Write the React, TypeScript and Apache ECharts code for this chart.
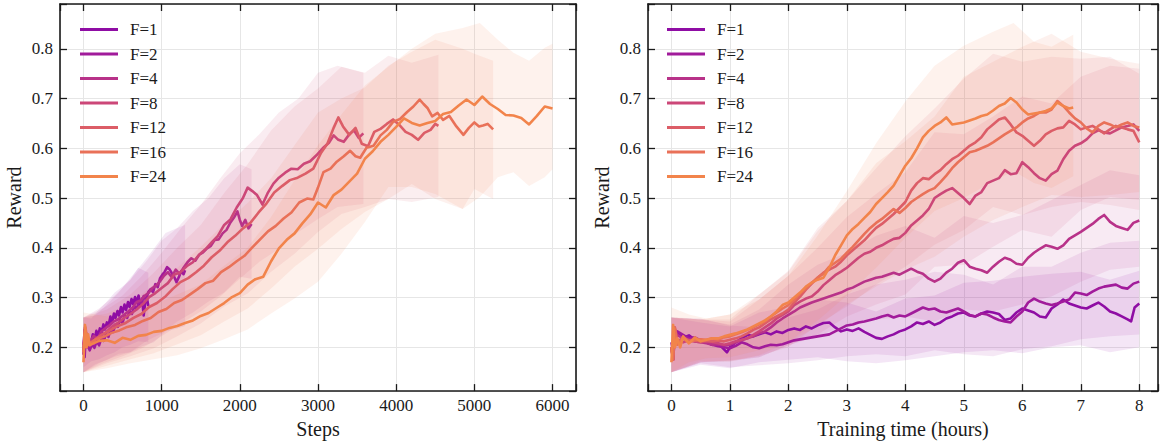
import React, { useEffect, useRef } from 'react';
import * as echarts from 'echarts';

type P = [number, number];
type B = [number, number, number];

const NAMES = ['F=1', 'F=2', 'F=4', 'F=8', 'F=12', 'F=16', 'F=24'];
const COLORS = ['#8f0da4', '#a11b9b', '#b83289', '#cc4778', '#dc5d67', '#e97158', '#f2844b'];

const X_TICKS_LEFT = [0, 1000, 2000, 3000, 4000, 5000, 6000];
const X_TICKS_RIGHT = [0, 1, 2, 3, 4, 5, 6, 7, 8];
const Y_TICKS = [0.2, 0.3, 0.4, 0.5, 0.6, 0.7, 0.8];

// ---------- Left plot: reward vs steps ----------
const leftF1: P[] = [[0,0.185],[15,0.235],[35,0.205],[55,0.222],[75,0.2],[100,0.212],[120,0.226],[140,0.214],[165,0.233],[185,0.221],[210,0.238],[230,0.229],[255,0.246],[275,0.236],[300,0.25],[320,0.243],[345,0.262],[365,0.249],[390,0.268],[410,0.259],[435,0.273],[455,0.264],[480,0.281],[500,0.27],[525,0.286],[545,0.275],[570,0.291],[590,0.281],[615,0.297],[635,0.287],[660,0.301],[680,0.291],[705,0.304],[725,0.284],[750,0.298],[770,0.264],[790,0.29],[810,0.3],[830,0.283]];
const leftF2: P[] = [[0,0.2],[15,0.18],[30,0.225],[50,0.205],[80,0.194],[110,0.206],[140,0.199],[170,0.212],[200,0.204],[230,0.219],[260,0.213],[290,0.227],[320,0.221],[350,0.237],[380,0.231],[410,0.246],[440,0.241],[470,0.256],[500,0.249],[530,0.265],[560,0.259],[590,0.273],[620,0.267],[650,0.283],[680,0.277],[710,0.293],[740,0.287],[770,0.303],[800,0.295],[830,0.311],[860,0.317],[890,0.311],[920,0.327],[950,0.321],[980,0.339],[1010,0.346],[1040,0.352],[1070,0.361],[1100,0.357],[1130,0.349],[1160,0.342],[1190,0.331],[1220,0.341],[1250,0.353],[1280,0.347],[1300,0.355]];
const leftF4: P[] = [[0,0.205],[20,0.24],[45,0.2],[80,0.21],[130,0.223],[180,0.217],[230,0.232],[280,0.238],[330,0.244],[380,0.251],[430,0.255],[480,0.261],[530,0.267],[580,0.273],[630,0.28],[680,0.291],[730,0.294],[780,0.303],[830,0.309],[880,0.319],[930,0.324],[980,0.333],[1030,0.344],[1080,0.351],[1130,0.341],[1180,0.356],[1230,0.347],[1280,0.36],[1330,0.371],[1380,0.379],[1430,0.374],[1480,0.386],[1530,0.391],[1580,0.399],[1630,0.404],[1680,0.416],[1730,0.417],[1780,0.429],[1830,0.436],[1880,0.451],[1930,0.462],[1970,0.473],[2000,0.456],[2030,0.444],[2070,0.456],[2110,0.439],[2150,0.448]];
const leftF8: P[] = [[0,0.2],[25,0.235],[60,0.205],[120,0.212],[200,0.221],[280,0.229],[360,0.241],[440,0.249],[520,0.259],[600,0.267],[680,0.276],[760,0.287],[840,0.301],[920,0.309],[1000,0.319],[1080,0.329],[1160,0.346],[1240,0.351],[1320,0.363],[1400,0.371],[1480,0.386],[1560,0.397],[1640,0.411],[1720,0.424],[1800,0.446],[1880,0.457],[1960,0.481],[2040,0.5],[2100,0.521],[2160,0.514],[2220,0.506],[2290,0.487],[2360,0.511],[2430,0.529],[2500,0.541],[2580,0.551],[2660,0.559],[2740,0.558],[2820,0.569],[2900,0.574],[2980,0.586],[3060,0.6],[3140,0.611],[3200,0.626],[3260,0.617],[3330,0.613],[3400,0.628],[3460,0.636],[3520,0.621],[3580,0.63]];
const leftF12: P[] = [[0,0.195],[25,0.235],[60,0.205],[140,0.215],[240,0.226],[340,0.234],[440,0.243],[540,0.249],[640,0.259],[740,0.267],[840,0.281],[940,0.289],[1040,0.301],[1140,0.317],[1240,0.331],[1340,0.339],[1440,0.351],[1540,0.364],[1640,0.381],[1740,0.394],[1840,0.411],[1940,0.424],[2040,0.439],[2140,0.451],[2240,0.471],[2340,0.489],[2440,0.511],[2540,0.524],[2640,0.536],[2740,0.541],[2840,0.549],[2940,0.559],[3040,0.591],[3120,0.609],[3200,0.641],[3260,0.662],[3320,0.644],[3400,0.627],[3480,0.641],[3560,0.609],[3640,0.604],[3720,0.633],[3800,0.639],[3880,0.649],[3960,0.658],[4040,0.647],[4120,0.633],[4200,0.627],[4280,0.617],[4360,0.631],[4440,0.637],[4500,0.649],[4540,0.645]];
const leftF16: P[] = [[0,0.19],[25,0.24],[60,0.205],[160,0.216],[260,0.221],[360,0.229],[460,0.234],[560,0.241],[660,0.245],[760,0.253],[860,0.259],[960,0.271],[1060,0.277],[1160,0.289],[1260,0.295],[1360,0.306],[1460,0.317],[1560,0.329],[1660,0.334],[1760,0.351],[1860,0.361],[1960,0.373],[2060,0.384],[2160,0.401],[2260,0.417],[2360,0.433],[2460,0.444],[2560,0.459],[2660,0.471],[2760,0.491],[2860,0.499],[2940,0.497],[3000,0.521],[3070,0.552],[3160,0.559],[3240,0.573],[3330,0.584],[3410,0.595],[3480,0.584],[3540,0.581],[3620,0.601],[3710,0.605],[3800,0.626],[3880,0.637],[3960,0.653],[4050,0.659],[4140,0.673],[4220,0.684],[4300,0.698],[4350,0.689],[4400,0.681],[4460,0.664],[4530,0.671],[4600,0.657],[4680,0.665],[4770,0.644],[4860,0.627],[4930,0.641],[5000,0.652],[5060,0.644],[5110,0.646],[5170,0.649],[5240,0.638]];
const leftF24: P[] = [[0,0.17],[20,0.245],[40,0.2],[60,0.226],[80,0.204],[100,0.206],[200,0.213],[300,0.214],[400,0.209],[500,0.219],[600,0.215],[700,0.223],[800,0.225],[900,0.231],[1000,0.233],[1100,0.239],[1200,0.243],[1300,0.249],[1400,0.254],[1500,0.263],[1600,0.269],[1700,0.279],[1800,0.289],[1900,0.301],[2000,0.309],[2100,0.326],[2200,0.337],[2300,0.342],[2400,0.373],[2500,0.399],[2600,0.416],[2700,0.429],[2800,0.449],[2900,0.467],[3000,0.491],[3100,0.481],[3200,0.506],[3300,0.517],[3400,0.533],[3500,0.549],[3600,0.579],[3700,0.594],[3800,0.613],[3900,0.627],[4000,0.643],[4100,0.66],[4200,0.651],[4300,0.646],[4400,0.651],[4500,0.655],[4600,0.669],[4700,0.673],[4800,0.686],[4900,0.698],[5000,0.687],[5100,0.704],[5200,0.689],[5300,0.679],[5400,0.667],[5500,0.666],[5600,0.661],[5700,0.648],[5800,0.665],[5900,0.684],[6000,0.68]];

const leftBandF1: B[] = [[0,0.16,0.26],[100,0.172,0.258],[200,0.176,0.276],[300,0.184,0.292],[400,0.19,0.31],[500,0.2,0.322],[600,0.205,0.336],[700,0.212,0.36],[830,0.21,0.35]];
const leftBandF2: B[] = [[0,0.15,0.26],[150,0.166,0.264],[300,0.175,0.286],[450,0.187,0.31],[600,0.19,0.34],[750,0.202,0.368],[900,0.21,0.398],[1050,0.232,0.43],[1200,0.238,0.44],[1300,0.243,0.446]];
const leftBandF4: B[] = [[0,0.15,0.26],[200,0.168,0.278],[400,0.181,0.304],[600,0.19,0.336],[800,0.212,0.372],[1000,0.228,0.414],[1200,0.252,0.44],[1400,0.27,0.474],[1600,0.292,0.5],[1800,0.31,0.54],[2000,0.342,0.568],[2150,0.338,0.558]];
const leftBandF8: B[] = [[0,0.15,0.26],[250,0.168,0.278],[500,0.182,0.304],[750,0.198,0.344],[1000,0.222,0.39],[1250,0.248,0.44],[1500,0.272,0.486],[1750,0.302,0.54],[2000,0.338,0.59],[2250,0.372,0.628],[2500,0.398,0.672],[2750,0.432,0.7],[3000,0.458,0.752],[3250,0.482,0.766],[3580,0.488,0.752]];
const leftBandF12: B[] = [[0,0.15,0.26],[300,0.168,0.276],[600,0.182,0.306],[900,0.198,0.35],[1200,0.222,0.4],[1500,0.248,0.446],[1800,0.282,0.51],[2100,0.308,0.568],[2400,0.352,0.636],[2700,0.388,0.684],[3000,0.432,0.72],[3300,0.468,0.764],[3600,0.482,0.752],[3900,0.498,0.786],[4200,0.492,0.772],[4540,0.502,0.788]];
const leftBandF16: B[] = [[0,0.15,0.26],[300,0.163,0.268],[600,0.176,0.288],[900,0.188,0.326],[1200,0.206,0.36],[1500,0.224,0.402],[1800,0.252,0.448],[2100,0.278,0.49],[2400,0.318,0.54],[2700,0.362,0.606],[3000,0.398,0.672],[3300,0.438,0.7],[3600,0.472,0.722],[3900,0.498,0.766],[4200,0.528,0.794],[4500,0.498,0.818],[4850,0.478,0.8],[5000,0.518,0.79],[5240,0.498,0.776]];
const leftBandF24: B[] = [[0,0.15,0.27],[300,0.158,0.262],[600,0.168,0.272],[900,0.176,0.286],[1200,0.184,0.306],[1500,0.198,0.326],[1800,0.216,0.364],[2100,0.236,0.4],[2400,0.268,0.462],[2700,0.298,0.536],[3000,0.332,0.606],[3300,0.388,0.668],[3600,0.452,0.726],[3900,0.522,0.764],[4200,0.522,0.8],[4500,0.508,0.83],[4850,0.478,0.842],[5070,0.502,0.852],[5300,0.542,0.818],[5500,0.552,0.792],[5700,0.524,0.776],[5900,0.542,0.802],[6000,0.558,0.81]];

// ---------- Right plot: reward vs training time (hours) ----------
const rightF1: P[] = [[0,0.2],[0.03,0.175],[0.06,0.225],[0.1,0.228],[0.2,0.22],[0.3,0.224],[0.4,0.215],[0.5,0.212],[0.6,0.21],[0.7,0.205],[0.8,0.208],[0.9,0.196],[0.95,0.19],[1.0,0.2],[1.1,0.21],[1.2,0.218],[1.3,0.225],[1.4,0.222],[1.5,0.226],[1.6,0.23],[1.7,0.226],[1.8,0.232],[1.9,0.229],[2.0,0.235],[2.1,0.238],[2.2,0.235],[2.3,0.242],[2.4,0.238],[2.5,0.244],[2.6,0.249],[2.7,0.25],[2.8,0.24],[2.9,0.232],[3.0,0.236],[3.1,0.233],[3.2,0.238],[3.3,0.231],[3.4,0.225],[3.5,0.219],[3.6,0.217],[3.7,0.222],[3.8,0.226],[3.9,0.232],[4.0,0.236],[4.1,0.242],[4.2,0.25],[4.3,0.247],[4.4,0.252],[4.5,0.245],[4.6,0.25],[4.7,0.258],[4.8,0.262],[4.9,0.268],[5.0,0.27],[5.1,0.264],[5.2,0.262],[5.3,0.268],[5.4,0.272],[5.5,0.27],[5.6,0.267],[5.7,0.255],[5.8,0.258],[5.9,0.27],[6.0,0.278],[6.1,0.274],[6.2,0.27],[6.3,0.262],[6.4,0.26],[6.5,0.278],[6.6,0.286],[6.7,0.296],[6.8,0.288],[6.9,0.284],[7.0,0.28],[7.1,0.278],[7.2,0.284],[7.3,0.29],[7.4,0.282],[7.5,0.272],[7.6,0.268],[7.7,0.262],[7.8,0.256],[7.86,0.252],[7.92,0.28],[8.0,0.288]];
const rightF2: P[] = [[0,0.21],[0.03,0.19],[0.06,0.23],[0.1,0.232],[0.2,0.225],[0.3,0.218],[0.4,0.22],[0.5,0.214],[0.6,0.21],[0.7,0.205],[0.8,0.202],[0.9,0.2],[1.0,0.198],[1.1,0.203],[1.2,0.21],[1.3,0.206],[1.4,0.2],[1.5,0.198],[1.6,0.202],[1.7,0.205],[1.8,0.204],[1.9,0.206],[2.0,0.21],[2.1,0.214],[2.2,0.216],[2.3,0.218],[2.4,0.22],[2.5,0.222],[2.6,0.224],[2.7,0.226],[2.8,0.232],[2.9,0.238],[3.0,0.244],[3.1,0.246],[3.2,0.25],[3.3,0.252],[3.4,0.255],[3.5,0.258],[3.6,0.262],[3.7,0.265],[3.8,0.26],[3.9,0.264],[4.0,0.262],[4.1,0.268],[4.2,0.274],[4.3,0.28],[4.4,0.276],[4.5,0.278],[4.6,0.272],[4.7,0.27],[4.8,0.274],[4.9,0.278],[5.0,0.272],[5.1,0.265],[5.2,0.262],[5.3,0.268],[5.4,0.266],[5.5,0.26],[5.6,0.255],[5.7,0.252],[5.8,0.25],[5.9,0.262],[6.0,0.272],[6.1,0.29],[6.2,0.298],[6.3,0.292],[6.4,0.288],[6.5,0.285],[6.6,0.288],[6.7,0.292],[6.8,0.296],[6.9,0.31],[7.0,0.308],[7.1,0.305],[7.2,0.312],[7.3,0.318],[7.4,0.322],[7.5,0.324],[7.6,0.326],[7.7,0.32],[7.8,0.318],[7.9,0.328],[8.0,0.332]];
const rightF4: P[] = [[0,0.2],[0.03,0.175],[0.06,0.235],[0.1,0.225],[0.2,0.218],[0.3,0.215],[0.4,0.212],[0.5,0.21],[0.6,0.208],[0.7,0.205],[0.8,0.206],[0.9,0.204],[1.0,0.205],[1.1,0.21],[1.2,0.214],[1.3,0.218],[1.4,0.222],[1.5,0.228],[1.6,0.232],[1.7,0.24],[1.8,0.25],[1.9,0.258],[2.0,0.265],[2.1,0.272],[2.2,0.28],[2.3,0.285],[2.4,0.29],[2.5,0.294],[2.6,0.298],[2.7,0.302],[2.8,0.306],[2.9,0.31],[3.0,0.316],[3.1,0.32],[3.2,0.326],[3.3,0.332],[3.4,0.336],[3.5,0.34],[3.6,0.342],[3.7,0.346],[3.8,0.35],[3.9,0.346],[4.0,0.352],[4.1,0.358],[4.2,0.352],[4.3,0.348],[4.4,0.338],[4.5,0.332],[4.6,0.338],[4.7,0.35],[4.8,0.358],[4.9,0.37],[5.0,0.375],[5.1,0.362],[5.2,0.358],[5.3,0.355],[5.4,0.35],[5.5,0.362],[5.6,0.372],[5.7,0.38],[5.8,0.376],[5.9,0.368],[6.0,0.366],[6.1,0.38],[6.2,0.39],[6.3,0.398],[6.4,0.405],[6.5,0.402],[6.6,0.398],[6.7,0.405],[6.8,0.418],[6.9,0.425],[7.0,0.432],[7.1,0.44],[7.2,0.448],[7.3,0.458],[7.4,0.466],[7.5,0.452],[7.6,0.444],[7.7,0.44],[7.8,0.436],[7.9,0.45],[8.0,0.455]];
const rightF8: P[] = [[0,0.2],[0.03,0.18],[0.06,0.235],[0.1,0.215],[0.2,0.21],[0.3,0.214],[0.4,0.212],[0.5,0.21],[0.6,0.212],[0.7,0.21],[0.8,0.208],[0.9,0.205],[1.0,0.208],[1.1,0.212],[1.2,0.215],[1.3,0.218],[1.4,0.225],[1.5,0.232],[1.6,0.24],[1.7,0.248],[1.8,0.258],[1.9,0.265],[2.0,0.272],[2.1,0.285],[2.2,0.292],[2.3,0.298],[2.4,0.302],[2.5,0.312],[2.6,0.325],[2.7,0.335],[2.8,0.345],[2.9,0.352],[3.0,0.36],[3.1,0.37],[3.2,0.38],[3.3,0.388],[3.4,0.392],[3.5,0.4],[3.6,0.405],[3.7,0.412],[3.8,0.418],[3.9,0.42],[4.0,0.43],[4.1,0.445],[4.2,0.455],[4.3,0.465],[4.4,0.478],[4.5,0.5],[4.6,0.508],[4.7,0.515],[4.8,0.52],[4.9,0.51],[5.0,0.5],[5.1,0.488],[5.2,0.505],[5.3,0.512],[5.4,0.53],[5.5,0.535],[5.6,0.54],[5.7,0.556],[5.8,0.548],[5.9,0.55],[6.0,0.572],[6.1,0.562],[6.2,0.55],[6.3,0.54],[6.4,0.535],[6.5,0.548],[6.6,0.555],[6.7,0.578],[6.8,0.595],[6.9,0.605],[7.0,0.61],[7.1,0.618],[7.2,0.63],[7.3,0.636],[7.4,0.632],[7.5,0.63],[7.6,0.636],[7.7,0.642],[7.8,0.645],[7.9,0.648],[8.0,0.635]];
const rightF12: P[] = [[0,0.195],[0.03,0.175],[0.06,0.24],[0.1,0.21],[0.2,0.22],[0.3,0.214],[0.4,0.215],[0.5,0.212],[0.6,0.214],[0.7,0.212],[0.8,0.214],[0.9,0.212],[1.0,0.215],[1.1,0.218],[1.2,0.222],[1.3,0.228],[1.4,0.235],[1.5,0.24],[1.6,0.248],[1.7,0.256],[1.8,0.262],[1.9,0.268],[2.0,0.276],[2.1,0.29],[2.2,0.302],[2.3,0.316],[2.4,0.328],[2.5,0.34],[2.6,0.35],[2.7,0.356],[2.8,0.362],[2.9,0.372],[3.0,0.385],[3.1,0.395],[3.2,0.405],[3.3,0.415],[3.4,0.428],[3.5,0.44],[3.6,0.448],[3.7,0.458],[3.8,0.468],[3.9,0.48],[4.0,0.492],[4.1,0.515],[4.2,0.53],[4.3,0.54],[4.4,0.538],[4.5,0.548],[4.6,0.556],[4.7,0.568],[4.8,0.578],[4.9,0.585],[5.0,0.595],[5.1,0.605],[5.2,0.612],[5.3,0.622],[5.4,0.638],[5.5,0.648],[5.6,0.658],[5.7,0.662],[5.8,0.648],[5.9,0.632],[6.0,0.625],[6.1,0.615],[6.2,0.605],[6.3,0.615],[6.4,0.628],[6.5,0.635],[6.6,0.64],[6.7,0.642],[6.8,0.655],[6.9,0.648],[7.0,0.638],[7.1,0.642],[7.2,0.645],[7.3,0.638],[7.4,0.63],[7.5,0.638],[7.6,0.645],[7.7,0.642],[7.8,0.638],[7.9,0.635],[8.0,0.612]];
const rightF16: P[] = [[0,0.2],[0.03,0.175],[0.06,0.238],[0.1,0.205],[0.2,0.218],[0.3,0.21],[0.4,0.214],[0.5,0.216],[0.6,0.215],[0.7,0.218],[0.8,0.216],[0.9,0.22],[1.0,0.222],[1.1,0.226],[1.2,0.23],[1.3,0.235],[1.4,0.24],[1.5,0.246],[1.6,0.252],[1.7,0.262],[1.8,0.27],[1.9,0.278],[2.0,0.285],[2.1,0.295],[2.2,0.308],[2.3,0.318],[2.4,0.33],[2.5,0.34],[2.6,0.348],[2.7,0.362],[2.8,0.37],[2.9,0.378],[3.0,0.39],[3.1,0.402],[3.2,0.415],[3.3,0.428],[3.4,0.44],[3.5,0.45],[3.6,0.458],[3.7,0.468],[3.8,0.478],[3.9,0.47],[4.0,0.48],[4.1,0.492],[4.2,0.5],[4.3,0.508],[4.4,0.515],[4.5,0.52],[4.6,0.532],[4.7,0.545],[4.8,0.56],[4.9,0.572],[5.0,0.582],[5.1,0.592],[5.2,0.595],[5.3,0.6],[5.4,0.605],[5.5,0.612],[5.6,0.62],[5.7,0.628],[5.8,0.635],[5.9,0.642],[6.0,0.652],[6.1,0.66],[6.2,0.665],[6.3,0.672],[6.4,0.672],[6.5,0.678],[6.6,0.695],[6.7,0.685],[6.8,0.672],[6.9,0.66],[7.0,0.652],[7.1,0.64],[7.2,0.632],[7.3,0.645],[7.4,0.652],[7.5,0.648],[7.6,0.642],[7.7,0.648],[7.8,0.652],[7.9,0.645],[8.0,0.642]];
const rightF24: P[] = [[0,0.17],[0.03,0.245],[0.06,0.2],[0.1,0.218],[0.15,0.2],[0.2,0.222],[0.3,0.208],[0.4,0.22],[0.5,0.212],[0.6,0.215],[0.7,0.218],[0.8,0.218],[0.9,0.222],[1.0,0.225],[1.1,0.228],[1.2,0.232],[1.3,0.236],[1.4,0.242],[1.5,0.248],[1.6,0.254],[1.7,0.262],[1.8,0.272],[1.9,0.285],[2.0,0.29],[2.1,0.3],[2.2,0.31],[2.3,0.322],[2.4,0.33],[2.5,0.336],[2.6,0.34],[2.7,0.36],[2.8,0.385],[2.9,0.405],[3.0,0.425],[3.1,0.438],[3.2,0.448],[3.3,0.46],[3.4,0.472],[3.5,0.488],[3.6,0.5],[3.7,0.512],[3.8,0.525],[3.9,0.545],[4.0,0.565],[4.1,0.58],[4.2,0.6],[4.3,0.622],[4.4,0.635],[4.5,0.645],[4.6,0.652],[4.7,0.662],[4.8,0.648],[4.9,0.65],[5.0,0.652],[5.1,0.656],[5.2,0.66],[5.3,0.665],[5.4,0.668],[5.5,0.676],[5.6,0.685],[5.7,0.69],[5.8,0.701],[5.9,0.692],[6.0,0.678],[6.1,0.668],[6.2,0.67],[6.3,0.672],[6.4,0.675],[6.5,0.68],[6.6,0.692],[6.7,0.685],[6.8,0.68],[6.87,0.682]];

const rightBandF1: B[] = [[0,0.15,0.26],[0.5,0.165,0.25],[1,0.158,0.242],[1.5,0.17,0.27],[2,0.175,0.282],[2.5,0.18,0.296],[3,0.172,0.29],[3.5,0.168,0.272],[4,0.174,0.298],[4.5,0.182,0.304],[5,0.19,0.33],[5.5,0.194,0.334],[6,0.188,0.342],[6.5,0.2,0.348],[7,0.204,0.352],[7.5,0.19,0.336],[8,0.2,0.354]];
const rightBandF2: B[] = [[0,0.15,0.26],[0.5,0.168,0.258],[1,0.16,0.244],[1.5,0.164,0.24],[2,0.168,0.26],[2.5,0.174,0.276],[3,0.182,0.306],[3.5,0.186,0.326],[4,0.182,0.336],[4.5,0.194,0.352],[5,0.186,0.346],[5.5,0.182,0.326],[6,0.196,0.362],[6.5,0.202,0.362],[7,0.216,0.39],[7.5,0.222,0.41],[8,0.226,0.414]];
const rightBandF4: B[] = [[0,0.15,0.26],[0.5,0.17,0.256],[1,0.172,0.246],[1.5,0.18,0.276],[2,0.204,0.326],[2.5,0.222,0.366],[3,0.246,0.39],[3.5,0.256,0.424],[4,0.262,0.444],[4.5,0.252,0.42],[5,0.276,0.464],[5.5,0.272,0.45],[6,0.286,0.466],[6.5,0.302,0.496],[7,0.332,0.526],[7.5,0.356,0.556],[8,0.362,0.546]];
const rightBandF8: B[] = [[0,0.15,0.26],[0.5,0.17,0.256],[1,0.174,0.252],[1.5,0.18,0.296],[2,0.204,0.344],[2.5,0.226,0.4],[3,0.262,0.462],[3.5,0.286,0.508],[4,0.306,0.552],[4.5,0.362,0.632],[5,0.366,0.628],[5.5,0.402,0.664],[6,0.436,0.704],[6.5,0.422,0.69],[7,0.476,0.744],[7.5,0.502,0.766],[8,0.496,0.76]];
const rightBandF12: B[] = [[0,0.15,0.26],[0.5,0.17,0.256],[1,0.173,0.256],[1.5,0.183,0.306],[2,0.2,0.354],[2.5,0.246,0.44],[3,0.282,0.494],[3.5,0.326,0.56],[4,0.362,0.624],[4.5,0.406,0.68],[5,0.436,0.74],[5.5,0.482,0.79],[6,0.466,0.774],[6.5,0.482,0.784],[7,0.492,0.78],[7.5,0.486,0.784],[8,0.476,0.75]];
const rightBandF16: B[] = [[0,0.15,0.26],[0.5,0.173,0.256],[1,0.171,0.266],[1.5,0.184,0.306],[2,0.21,0.352],[2.5,0.242,0.434],[3,0.286,0.494],[3.5,0.322,0.57],[4,0.356,0.614],[4.5,0.382,0.664],[5,0.422,0.744],[5.5,0.456,0.774],[6,0.482,0.804],[6.5,0.506,0.83],[7,0.502,0.794],[7.5,0.506,0.78],[8,0.512,0.77]];
const rightBandF24: B[] = [[0,0.15,0.28],[0.3,0.17,0.266],[0.6,0.178,0.258],[1,0.18,0.266],[1.5,0.194,0.296],[2,0.21,0.344],[2.5,0.254,0.424],[3,0.304,0.514],[3.5,0.36,0.61],[4,0.42,0.694],[4.5,0.474,0.766],[5,0.5,0.806],[5.5,0.534,0.834],[5.85,0.554,0.852],[6.2,0.53,0.814],[6.5,0.52,0.804],[6.87,0.544,0.828]];

const LEFT_LINES = [leftF1, leftF2, leftF4, leftF8, leftF12, leftF16, leftF24];
const LEFT_BANDS = [leftBandF1, leftBandF2, leftBandF4, leftBandF8, leftBandF12, leftBandF16, leftBandF24];
const RIGHT_LINES = [rightF1, rightF2, rightF4, rightF8, rightF12, rightF16, rightF24];
const RIGHT_BANDS = [rightBandF1, rightBandF2, rightBandF4, rightBandF8, rightBandF12, rightBandF16, rightBandF24];

const FONT = 'Liberation Serif';
const INK = '#1a1a1a';
const GRID_LINE = '#e6e6e6';
const BAND_ALPHA = 0.1;

function rgba(hex: string, a: number) {
  const n = parseInt(hex.slice(1), 16);
  return `rgba(${(n >> 16) & 255},${(n >> 8) & 255},${n & 255},${a})`;
}

function tickFmt(ticks: number[], digits: number) {
  return (v: number) => (ticks.some((t) => Math.abs(t - v) < 1e-6) ? v.toFixed(digits) : '');
}

const FRAME = { show: true, onZero: false, lineStyle: { color: INK, width: 1.6 } };
const TICK = { show: true, inside: true, length: 7, lineStyle: { color: INK, width: 1.3 } };

function xAxisPair(gridIndex: number, min: number, max: number, step: number, ticks: number[], name: string) {
  const common = {
    type: 'value', gridIndex, min, max, minInterval: step, maxInterval: step,
    axisLine: FRAME, axisTick: TICK,
  };
  return [
    {
      ...common, position: 'bottom', name, nameLocation: 'middle', nameGap: 27,
      nameTextStyle: { fontFamily: FONT, fontSize: 20, color: INK },
      axisLabel: { show: true, fontFamily: FONT, fontSize: 17, color: INK, margin: 6, formatter: tickFmt(ticks, 0) },
      splitLine: { show: true, lineStyle: { color: GRID_LINE, width: 1 } },
    },
    { ...common, position: 'top', axisLabel: { show: false }, splitLine: { show: false } },
  ];
}

function yAxisPair(gridIndex: number) {
  const common = {
    type: 'value', gridIndex, min: 0.112, max: 0.89, minInterval: 0.1, maxInterval: 0.1,
    axisLine: FRAME, axisTick: TICK,
  };
  return [
    {
      ...common, position: 'left', name: 'Reward', nameLocation: 'middle', nameGap: 36,
      nameTextStyle: { fontFamily: FONT, fontSize: 20, color: INK },
      axisLabel: { show: true, fontFamily: FONT, fontSize: 17, color: INK, margin: 7, formatter: tickFmt(Y_TICKS, 1) },
      splitLine: { show: true, lineStyle: { color: GRID_LINE, width: 1 } },
    },
    { ...common, position: 'right', axisLabel: { show: false }, splitLine: { show: false } },
  ];
}

function bandSeries(band: B[], color: string, axisIndex: number) {
  return {
    type: 'custom',
    name: 'band',
    xAxisIndex: axisIndex,
    yAxisIndex: axisIndex,
    data: band,
    encode: { x: 0, y: [1, 2] },
    silent: true,
    z: 2,
    renderItem: (params: any, api: any) => {
      if (params.dataIndex !== 0) return null;
      const upper = band.map((p) => api.coord([p[0], p[2]]));
      const lower = band.map((p) => api.coord([p[0], p[1]])).reverse();
      return {
        type: 'polygon',
        shape: { points: upper.concat(lower) },
        style: { fill: rgba(color, BAND_ALPHA), stroke: null },
      };
    },
  };
}

function lineSeries(name: string, data: P[], color: string, axisIndex: number) {
  return {
    type: 'line',
    name,
    xAxisIndex: axisIndex,
    yAxisIndex: axisIndex,
    data,
    color,
    showSymbol: false,
    symbol: 'none',
    silent: true,
    z: 3,
    lineStyle: { width: 2.6, color, join: 'round' },
  };
}

function legendAt(left: number) {
  return {
    data: NAMES,
    orient: 'vertical',
    left,
    top: 16,
    icon: 'rect',
    itemWidth: 38,
    itemHeight: 3,
    itemGap: 7.5,
    selectedMode: false,
    textStyle: { fontFamily: FONT, fontSize: 17, color: INK, lineHeight: 17, padding: [0, 0, 0, 7] },
  };
}

export default function App() {
  const ref = useRef<HTMLDivElement>(null);
  useEffect(() => {
    if (!ref.current) return;
    const chart = echarts.init(ref.current, undefined, { renderer: 'svg' });
    const series: any[] = [];
    LEFT_BANDS.forEach((b, i) => series.push(bandSeries(b, COLORS[i], 0)));
    RIGHT_BANDS.forEach((b, i) => series.push(bandSeries(b, COLORS[i], 2)));
    LEFT_LINES.forEach((d, i) => series.push(lineSeries(NAMES[i], d, COLORS[i], 0)));
    RIGHT_LINES.forEach((d, i) => series.push(lineSeries(NAMES[i], d, COLORS[i], 2)));
    chart.setOption({
      animation: false,
      backgroundColor: '#ffffff',
      textStyle: { fontFamily: FONT },
      grid: [
        { left: 60, top: 4, width: 516, height: 389, show: false, containLabel: false },
        { left: 648, top: 4, width: 510, height: 389, show: false, containLabel: false },
      ],
      xAxis: [
        ...xAxisPair(0, -300, 6300, 1000, X_TICKS_LEFT, 'Steps'),
        ...xAxisPair(1, -0.4, 8.32, 1, X_TICKS_RIGHT, 'Training time (hours)'),
      ],
      yAxis: [...yAxisPair(0), ...yAxisPair(1)],
      legend: [legendAt(75), legendAt(662)],
      series,
    });
    return () => chart.dispose();
  }, []);
  return <div ref={ref} style={{ position: 'absolute', left: 0, top: 0, width: 1161, height: 444 }} />;
}
